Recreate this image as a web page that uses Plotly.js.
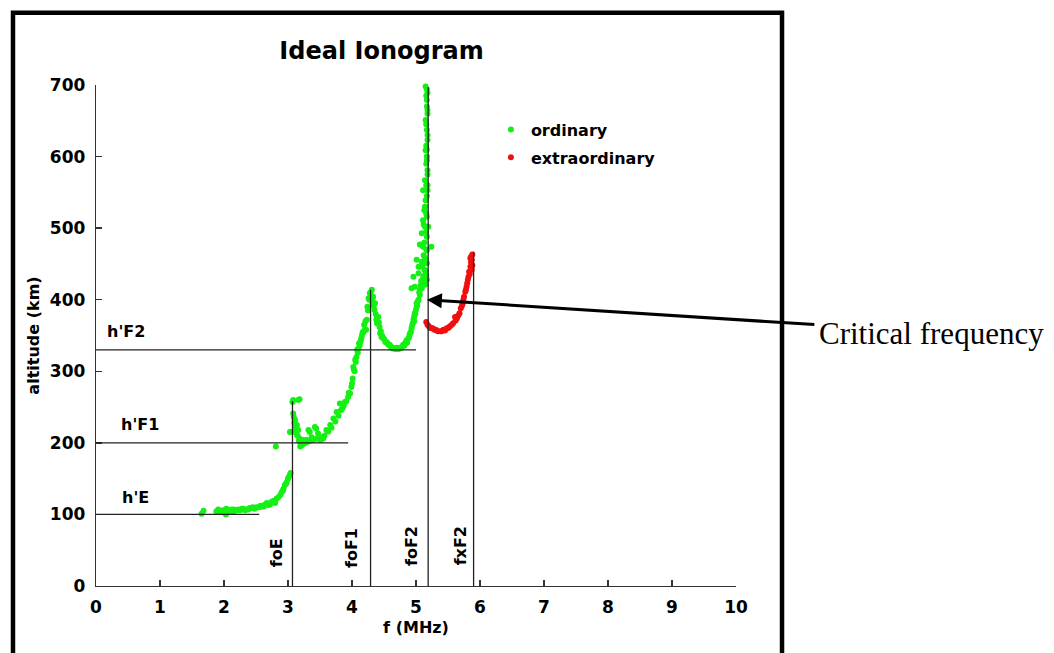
<!DOCTYPE html>
<html>
<head>
<meta charset="utf-8">
<script src="https://cdn.plot.ly/plotly-3.0.1.min.js"></script>
<style>html,body{margin:0;padding:0;background:#fff;}#chart{width:1054px;height:653px;}</style>
</head>
<body>
<div id="chart"></div>
<script>
// Ordinary trace (frequency MHz, virtual height km)
const ordinaryFreq = [
  1.65,1.68,1.91,1.93,1.96,2.00,2.03,2.04,2.06,2.09,2.12,2.15,2.17,2.20,2.25,2.28,2.30,2.35,2.38,2.43,2.45,2.51,2.55,2.59,2.64,2.69,2.75,2.80,2.81,2.82,2.88,2.90,2.93,2.95,2.98,3.00,3.03,
  3.07,3.08,3.18,3.16,3.08,3.11,3.14,3.03,3.06,3.16,3.14,3.18,3.19,3.21,3.19,3.24,3.27,3.29,3.32,3.34,3.37,3.40,3.42,3.44,3.47,3.50,3.53,3.55,3.60,3.66,3.71,3.76,3.81,3.85,3.89,3.94,3.97,4.00,
  4.02,4.03,4.05,4.06,4.08,4.10,4.11,4.13,4.15,4.17,4.18,4.20,4.22,4.23,4.24,4.27,4.28,4.31,4.33,4.32,4.36,4.35,4.39,4.39,4.41,4.43,4.44,4.46,4.49,4.52,4.54,4.57,4.59,4.62,4.65,4.67,4.70,4.72,4.75,4.78,4.80,4.83,4.85,4.88,4.90,4.92,4.93,4.95,4.96,4.97,4.98,5.00,5.01,5.01,5.04,5.06,4.93,4.98,5.09,5.11,5.14,5.06,5.11,5.16,
  5.17,4.96,5.04,5.13,5.06,5.17,5.09,5.01,5.04,5.17,5.11,5.06,5.24,5.09,5.17,5.19,5.14,5.11,5.17,5.13,5.15,5.11,5.18,5.14,5.18,5.17,5.15,5.18,5.17,5.15,5.18,5.17,5.18,5.15,5.18,5.17,5.18,
  1.88,1.97,2.02,2.08,2.14,2.22,2.33,2.40,2.48,2.57,2.62,2.67,2.72,2.78,2.85,2.92,2.97,3.01,3.04,
  3.09,3.10,3.12,3.13,3.15,3.17,3.20,3.22,3.25,3.28,3.31,3.35,3.38,3.45,3.52,3.57,3.63,3.68,3.74,3.79,3.83,3.87,3.91,3.95,3.99,4.01,4.04,4.07,4.09,4.12,4.14,4.16,4.19,4.21,4.25,4.26,4.29,4.30,4.32,4.34,4.37,4.38,4.42,4.45,4.47,4.50,4.55,4.60,4.64,4.68,4.73,4.77,4.82,4.86,4.89,4.91,4.94,4.97,4.99,5.02,5.03,5.05,5.07,5.08,5.12,5.15,
  5.10,5.14,5.12,5.16,5.13,5.16,5.12,5.16,5.14,5.17,5.16,5.18,5.16,5.17,5.16,5.18,5.16,5.17,5.16,5.17
];
const ordinaryAlt = [
  101,105,107,104,105,106,100,108,103,106,107,107,105,106,106,108,108,107,107,109,110,110,110,111,114,113,118,116,195,122,127,131,136,141,145,150,155,
  257,260,261,260,241,232,225,215,215,218,211,206,204,201,195,204,201,204,218,215,208,204,222,220,213,204,208,206,218,225,234,243,255,248,257,264,269,283,
  306,302,316,313,330,332,339,341,348,355,355,358,358,372,390,400,409,414,404,395,395,386,376,367,376,362,353,348,346,341,341,337,337,333,333,332,333,332,333,334,337,339,343,346,351,355,360,367,372,376,381,386,390,395,400,407,416,418,416,423,421,414,430,435,
  428,432,437,442,446,451,453,456,446,469,474,477,474,493,488,502,502,511,516,525,539,553,553,567,581,595,609,623,637,651,665,679,689,698,660,610,560,
  104,103,107,105,104,107,106,109,108,112,111,116,114,119,124,133,143,152,158,
  236,228,222,216,210,203,199,197,199,200,202,203,204,206,205,210,216,221,230,238,246,252,258,270,278,290,300,320,326,336,344,352,365,370,385,402,410,404,400,392,380,372,368,356,350,345,339,335,332,331,331,333,336,340,347,354,364,370,380,392,398,410,420,426,433,440,
  448,458,462,470,480,495,505,520,530,545,560,575,590,600,615,630,645,670,685,694
];
// Extraordinary trace
const extraFreq = [5.16,5.18,5.22,5.26,5.31,5.38,5.43,5.45,5.48,5.53,5.58,5.61,5.64,5.68,5.70,5.73,5.75,5.77,5.78,5.80,5.82,5.83,5.85,5.87,5.85,5.86,5.88,
  5.20,5.24,5.29,5.34,5.40,5.46,5.51,5.56,5.62,5.66,5.72,5.74,5.79,5.81,5.84,5.86,5.87,5.88];
const extraAlt  = [369,365,361,360,358,356,358,357,360,363,367,376,374,381,388,395,404,411,414,423,432,439,446,442,458,460,463,
  363,360,358,356,356,358,361,365,371,378,392,400,418,428,436,452,456,448];

// Reference frequencies (vertical lines) and virtual heights (horizontal lines)
const freqNames = ["foE","foF1","foF2","fxF2"];
const freqValues = [3.07,4.29,5.19,5.90];
const freqTops = [258,414,697,467];
const heightNames = ["h'E","h'F1","h'F2"];
const heightValues = [100,200,330];
const heightEnds = [2.55,3.94,5.00];

const xTicks = [0,1,2,3,4,5,6,7,8,9,10];
const yTicks = [0,100,200,300,400,500,600,700];

const BOLD = "DejaVu Sans";
const shapes = [];
freqValues.forEach((f,i)=>shapes.push({type:'line',xref:'x',yref:'y',x0:f,x1:f,y0:0,y1:freqTops[i],line:{color:'#222',width:1.3}}));
heightValues.forEach((h,i)=>shapes.push({type:'line',xref:'x',yref:'y',x0:0,x1:heightEnds[i],y0:h,y1:h,line:{color:'#222',width:1.3}}));
// outer frame
shapes.push({type:'rect',xref:'paper',yref:'paper',x0:-0.1297,x1:1.0719,y0:1.1441,y1:-0.25,line:{color:'#000',width:4.5},fillcolor:'rgba(0,0,0,0)'});

const annotations = [];
const freqLabelPos = [[2.8125,45.7],[3.995,52.6],[4.933,55.4],[5.6875,55.4]];
freqNames.forEach((n,i)=>annotations.push({x:freqLabelPos[i][0],y:freqLabelPos[i][1],xref:'x',yref:'y',text:n,textangle:-90,showarrow:false,xanchor:'center',yanchor:'middle',font:{family:BOLD,size:16,color:'#000',weight:'bold'}}));
const heightLabelPos = [[0.375,124],[0.36,226],[0.14,355]];
heightNames.forEach((n,i)=>annotations.push({x:heightLabelPos[i][0],y:heightLabelPos[i][1],xref:'x',yref:'y',text:n,showarrow:false,xanchor:'left',yanchor:'middle',font:{family:BOLD,size:16,color:'#000',weight:'bold'}}));
// arrow to the critical frequency
annotations.push({x:5.17,y:400,xref:'x',yref:'y',text:'',showarrow:true,ax:389,ay:25,arrowhead:2,arrowsize:1,arrowwidth:3,arrowcolor:'#000',standoff:0,startstandoff:0});
annotations.push({x:1.1266,y:0.5044,xref:'paper',yref:'paper',text:'Critical frequency',showarrow:false,xanchor:'left',yanchor:'middle',font:{family:'Liberation Serif',size:31,color:'#000'}});

const data = [
  {type:'scatter',mode:'markers',name:'ordinary',x:ordinaryFreq,y:ordinaryAlt,marker:{color:'rgb(20,240,20)',size:6},cliponaxis:false,legendgroup:'o'},
  {type:'scatter',mode:'markers',name:'extraordinary',x:extraFreq,y:extraAlt,marker:{color:'rgb(240,15,15)',size:6},cliponaxis:false,legendgroup:'x'}
];

const layout = {
  width:1054,height:653,
  margin:{l:96,r:318,t:85,b:67,pad:0},
  paper_bgcolor:'#fff',plot_bgcolor:'#fff',
  font:{family:BOLD,size:16,color:'#000'},
  title:{text:'Ideal Ionogram',x:0.362,xanchor:'center',xref:'container',y:1-51/653,yref:'container',yanchor:'middle',font:{family:BOLD,size:24,color:'#000',weight:'bold'}},
  xaxis:{range:[0,10],tickvals:xTicks,ticktext:xTicks.map(String),ticks:'inside',ticklen:6,tickwidth:1.3,tickcolor:'#333',showline:true,linecolor:'#333',linewidth:1.3,showgrid:false,zeroline:false,fixedrange:true,
    tickfont:{family:BOLD,size:17,color:'#000',weight:'bold'},ticklabelstandoff:5,
    title:{text:'f (MHz)',font:{family:BOLD,size:16,color:'#000',weight:'bold'},standoff:6}},
  yaxis:{range:[0,700],tickvals:yTicks,ticktext:yTicks.map(String),ticks:'inside',ticklen:6,tickwidth:1.3,tickcolor:'#333',showline:true,linecolor:'#333',linewidth:1.3,showgrid:false,zeroline:false,fixedrange:true,
    tickfont:{family:BOLD,size:17,color:'#000',weight:'bold'},ticklabelstandoff:6,
    title:{text:'altitude (km)',font:{family:BOLD,size:16,color:'#000',weight:'bold'},standoff:6}},
  showlegend:true,
  legend:{x:0.617,y:0.945,xanchor:'left',yanchor:'top',bgcolor:'rgba(0,0,0,0)',borderwidth:0,traceorder:'grouped',tracegroupgap:4,font:{family:BOLD,size:16,color:'#000',weight:'bold'}},
  shapes:shapes,annotations:annotations
};
Plotly.newPlot('chart',data,layout,{displayModeBar:false,staticPlot:true});
</script>
</body>
</html>
